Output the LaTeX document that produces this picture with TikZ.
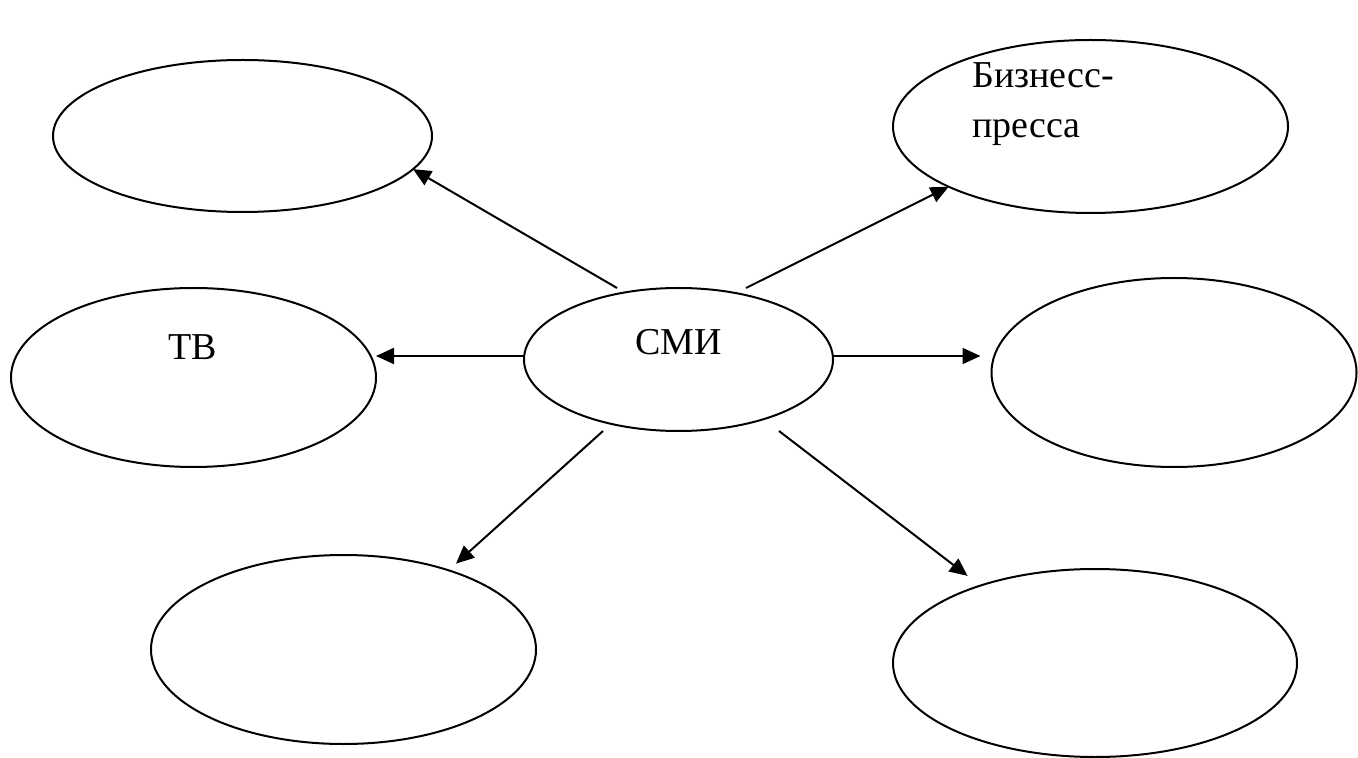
\documentclass[tikz,border=0pt]{standalone}
\usepackage{fontspec}
\setmainfont{Liberation Serif}
\usepackage{tikz}
\usetikzlibrary{arrows.meta, positioning, calc, shapes.geometric}

\begin{document}
\begin{tikzpicture}[
    x=0.5pt, y=-0.5pt,
    oval/.style={draw, ellipse, line width=1pt, inner sep=0pt, outer sep=0pt},
    lbl/.style={font=\fontsize{19}{25}\selectfont, inner sep=0pt},
    arr/.style={-{Triangle[length=9pt, width=8pt]}, line width=1pt},
  ]
  \useasboundingbox (0,0) rectangle (1358,758);

  % Centre
  \node[oval, minimum width=154.5pt, minimum height=71.5pt] (smi) at (678.5,359.5) {};
  \node[lbl, anchor=base] (smitext) at (678.5,355) {СМИ};

  % Outer ellipses
  \node[oval, minimum width=189.5pt, minimum height=76pt] (tl) at (242.5,136) {};
  \node[oval, minimum width=197.5pt, minimum height=86.5pt] (tr) at (1090.5,126.5) {};
  \node[oval, minimum width=182.5pt, minimum height=89.5pt] (tv) at (193.5,377.5) {};
  \node[oval, minimum width=182.5pt, minimum height=94.5pt] (mr) at (1174,372.5) {};
  \node[oval, minimum width=192.5pt, minimum height=94.5pt] (bl) at (343.5,649.5) {};
  \node[oval, minimum width=202pt, minimum height=94pt] (br) at (1095,663) {};

  % Labels
  \node[lbl, anchor=base] (tvtext) at (192.5,360) {ТВ};
  \node[lbl, anchor=base west, align=left] (trtext) at (972,138) {Бизнесс-\\пресса};

  % Arrows
  \draw[arr] ([xshift=-30.75pt]smi.north) -- (tl.-11);
  \draw[arr] ([xshift=33.75pt]smi.north) -- (tr.203);
  \draw[arr] ([yshift=1.75pt]smi.west) -- ([yshift=1.75pt]smi.west -| tv.east);
  \draw[arr, shorten >=5.5pt] ([yshift=1.75pt]smi.east) -- ([yshift=1.75pt]smi.east -| mr.west);
  \draw[arr, shorten >=5pt] ([xshift=-37.75pt]smi.south) -- (bl.37.5);
  \draw[arr, shorten >=8pt] ([xshift=50.25pt]smi.south) -- (br.146.5);

\end{tikzpicture}
\end{document}
